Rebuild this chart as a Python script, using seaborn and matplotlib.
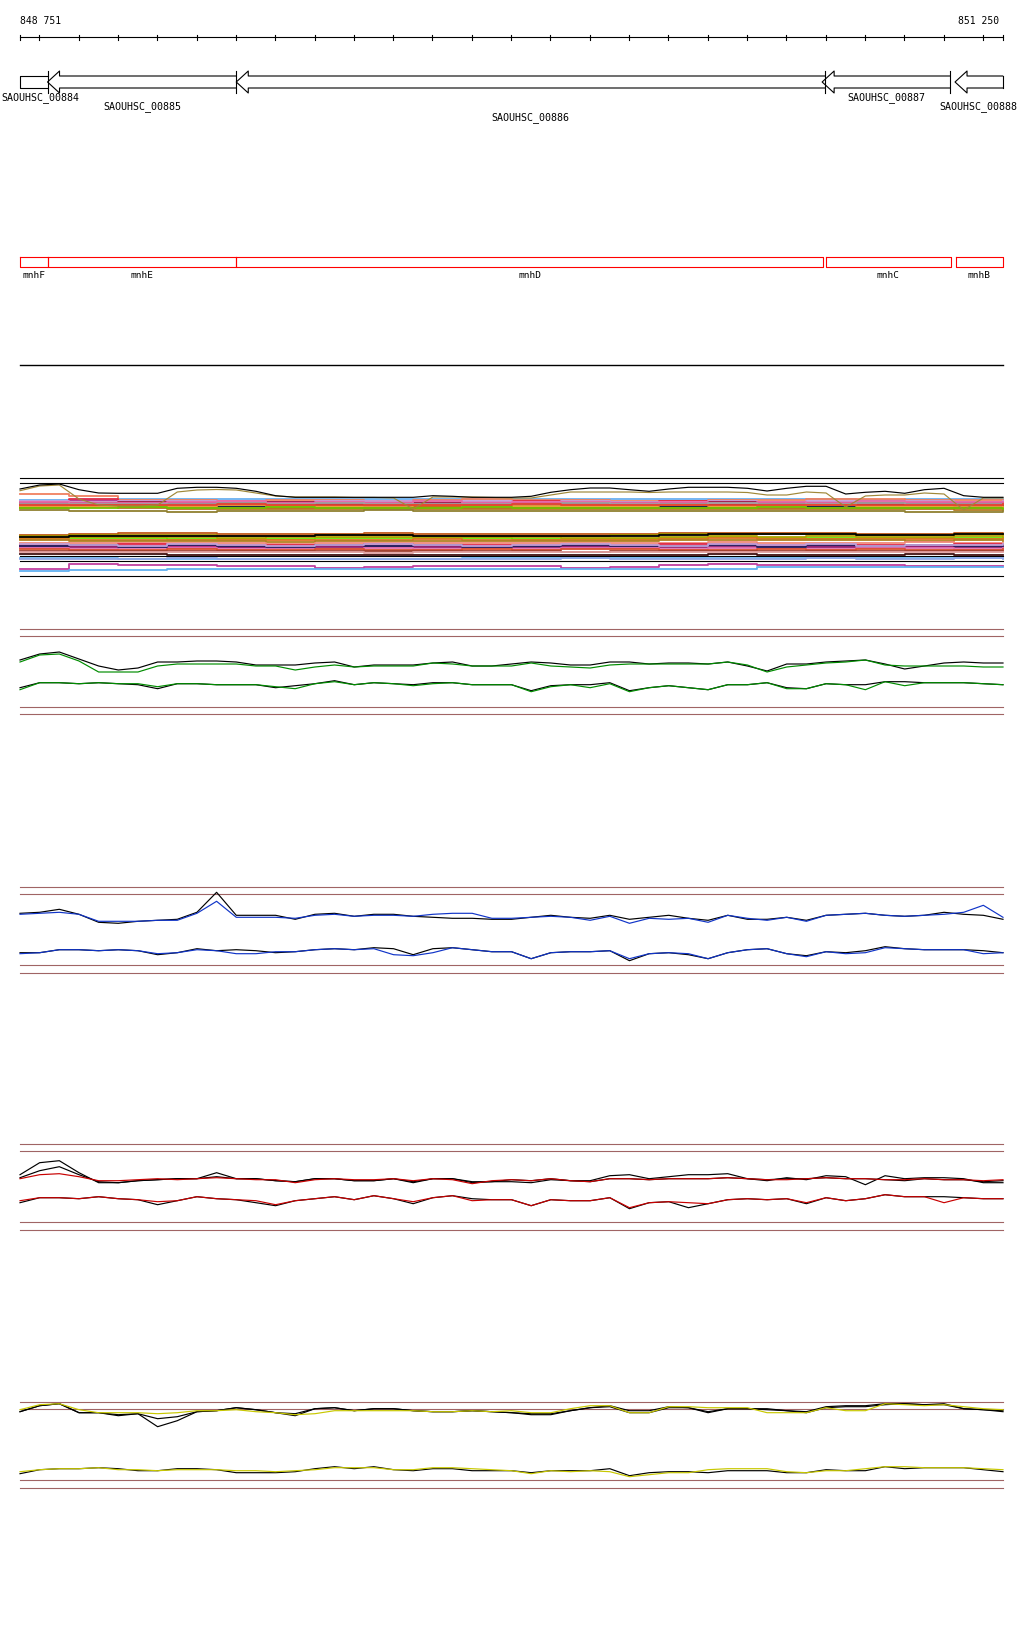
import pandas as pd
import matplotlib.pyplot as plt
import seaborn as sns

START, END = 848751, 851250
SPAN = 2500          # bp drawn across the track width
LEFT_PX, WIDTH_PX = 20, 983

# gene models (all on the minus strand)
gene_names = ['SAOUHSC_00884', 'SAOUHSC_00885', 'SAOUHSC_00886', 'SAOUHSC_00887', 'SAOUHSC_00888']
gene_starts = [848600, 848821, 849301, 850791, 851129]
gene_ends = [848821, 849301, 850798, 851117, 851400]

# annotated features
feat_names = ['mnhF', 'mnhE', 'mnhD', 'mnhC', 'mnhB']
feat_starts = [848751, 848821, 849301, 850800, 851131]
feat_ends = [848821, 849301, 850793, 851119, 851250]

# curve tracks, sampled every 50 bp (51 samples), values = offset from baseline
green_up_black = [5, 11, 13, 6, -1, -5, -3, 3, 3, 4, 4, 3, 0, 0, 0, 2, 3, -2, 0, 0, 0, 2, 3, -1, -1,
                  1, 3, 2, 0, 0, 3, 3, 1, 2, 2, 1, 3, -1, -6, 1, 1, 3, 4, 5, 1, -4, -1, 2, 3, 2, 2]
green_up_col = [3, 10, 11, 4, -7, -7, -7, -1, 1, 1, 1, 1, -1, -1, -5, -2, 0, -2, -1, -1, -1, 2, 1, -1, -1,
                -1, 2, -1, -2, -3, 0, 1, 1, 1, 1, 1, 3, 0, -7, -2, 0, 2, 3, 5, 0, -1, -1, -1, -1, -2, -2]
green_lo_black = [-3, 2, 2, 1, 2, 1, 0, -4, 1, 1, 0, 0, 0, -3, -1, 1, 4, 0, 2, 1, 0, 2, 2, 0, 0,
                  0, -6, -1, 0, 0, 2, -6, -3, -1, -3, -5, 0, 0, 2, -3, -4, 1, 0, 0, 3, 3, 2, 2, 2, 1, 0]
green_lo_col = [-5, 2, 2, 1, 2, 1, 1, -2, 1, 1, 0, 0, 0, -2, -4, 1, 3, 0, 2, 1, -1, 1, 2, 0, 0,
                0, -7, -2, 0, -3, 1, -7, -3, -1, -3, -5, 0, 0, 2, -4, -4, 1, 0, -5, 3, -1, 2, 2, 2, 1, 0]

blue_up_black = [3, 4, 7, 2, -6, -7, -5, -4, -3, 4, 24, 1, 1, 1, -3, 2, 3, 0, 2, 2, 0, -1, -2, -2, -3,
                 -3, -1, 1, -1, -2, 1, -3, -1, 1, -2, -4, 1, -3, -3, -1, -4, 1, 2, 3, 1, 0, 1, 4, 2, 1, -3]
blue_up_col = [2, 3, 4, 2, -5, -5, -5, -4, -4, 3, 15, -1, -1, -1, -2, 1, 2, 0, 1, 1, 0, 2, 3, 3, -2,
               -2, -1, 0, -1, -4, 0, -7, -2, -3, -2, -6, 1, -2, -4, -1, -5, 1, 2, 3, 1, 0, 1, 2, 4, 11, -1]
blue_lo_black = [-2, -2, 1, 1, 0, 1, 0, -4, -2, 2, 0, 1, 0, -2, -1, 1, 2, 1, 3, 2, -4, 2, 3, 1, -1,
                 -1, -8, -2, -1, -1, 0, -10, -3, -2, -4, -8, -2, 1, 2, -3, -5, -1, -2, 0, 4, 2, 1, 1, 1, 0, -2]
blue_lo_col = [-3, -2, 1, 1, 0, 1, 0, -3, -2, 1, 0, -3, -3, -1, -1, 1, 2, 1, 2, -4, -5, -2, 3, 1, -1,
               -1, -8, -2, -1, -1, 0, -8, -3, -2, -3, -8, -2, 1, 2, -3, -6, -1, -3, -2, 3, 2, 1, 1, 1, -3, -2]

red_up_black = [5, 17, 19, 7, -3, -3, -1, 0, 1, 1, 7, 1, 1, -1, -2, 1, 1, -1, -1, 1, -3, 1, 1, -3, -2,
                -2, -3, 0, -1, -1, 4, 5, 1, 3, 5, 5, 6, 1, -1, 2, 0, 4, 3, -5, 4, 1, 2, 2, 1, -3, -3]
red_up_black2 = [2, 9, 13, 5, -2, -3, -1, 0, 1, 1, 3, 1, 1, -1, -2, 1, 1, -1, -1, 1, -2, 1, 1, -2, -2,
                 0, -1, 1, -1, -2, 1, 1, 0, 1, 1, 1, 2, 1, 0, 1, 1, 2, 1, 1, 0, -1, 1, 0, 0, -2, -1]
red_up_col = [1, 5, 6, 3, -1, -1, 0, 1, 0, 1, 2, 1, 0, 0, -3, 0, 1, 0, 0, 1, -1, 1, 0, -4, -1,
              0, -1, 1, -1, -2, 1, 1, 0, 1, 1, 1, 2, 1, 0, 0, 1, 2, 1, 1, 0, 0, 1, 0, 0, -1, 0]
red_lo_black = [-3, 2, 2, 1, 3, 1, 0, -5, -1, 3, 1, 0, -3, -6, -1, 1, 3, 0, 4, 1, -4, 2, 4, 1, 0,
                0, -6, 0, -1, -1, 2, -9, -3, -2, -8, -4, 0, 1, 0, 1, -4, 2, -1, 1, 5, 3, 3, 3, 2, 1, 1]
red_lo_col = [-1, 2, 2, 1, 3, 1, 0, -2, -1, 3, 1, 0, -1, -5, -1, 1, 3, 0, 4, 1, -2, 2, 4, -1, 0,
              0, -6, 0, -1, -1, 2, -8, -3, -2, -3, -4, 0, 1, 0, 1, -3, 2, -1, 1, 5, 3, 3, -3, 2, 1, 1]

yellow_up_black = [-1, 5, 7, -2, -2, -5, -3, -16, -10, -1, 0, 3, 1, -2, -5, 2, 3, 0, 2, 2, 0, -1, -1, 0, -1,
                   -2, -4, -4, 0, 3, 5, 0, 0, 4, 3, -2, 2, 2, 2, 0, -1, 4, 5, 5, 7, 7, 6, 7, 2, 1, 0]
yellow_up_black2 = [-1, 5, 7, -2, -2, -4, -3, -8, -6, -1, 0, 3, 1, -2, -3, 2, 3, 0, 2, 2, 0, -1, -1, 0, -1,
                    -2, -3, -3, 0, 3, 4, -2, -2, 3, 3, -1, 2, 2, 1, 0, -2, 3, 4, 4, 6, 7, 6, 6, 2, 1, -1]
yellow_up_col = [1, 6, 7, 1, -2, -2, -2, -3, -2, 0, 0, 1, -1, -2, -4, -3, 0, 0, 0, 0, 0, -1, -1, 0, -1,
                 0, -2, -2, 2, 5, 5, -2, -2, 4, 4, 3, 3, 3, -2, -2, -2, 3, 0, 0, 7, 6, 5, 6, 4, 2, 1]
yellow_lo_black = [-4, 0, 1, 1, 2, 1, -1, -1, 1, 1, 0, -3, -3, -3, -2, 1, 3, 1, 3, 0, -1, 1, 1, -1, -1,
                   -1, -3, -1, -1, -1, 1, -6, -3, -2, -2, -3, -1, -1, -1, -3, -3, 0, -1, -1, 3, 1, 2, 2, 2, 0, -2]
yellow_lo_col = [-2, 0, 1, 1, 2, 0, 0, -1, 0, 0, 0, -1, -1, -2, -1, 0, 2, 2, 2, 0, 0, 2, 2, 1, 0,
                 -1, -4, -1, -2, -1, -2, -7, -5, -3, -3, 0, 1, 1, 1, -2, -3, -1, -1, 1, 3, 3, 2, 2, 2, 1, 0]

# top curves of the alignment block (pixel rows, 50 bp samples)
align_black = [490, 486, 485, 490.7, 494, 494.3, 494.3, 494.3, 489.3, 488.3, 488.3, 489.3, 492.3, 496.7,
               498.3, 498.3, 498.3, 498.3, 498.3, 498.3, 498.3, 496.7, 497.3, 498.3, 498.3,
               498.3, 497.3, 493.3, 490.7, 489, 489, 490.7, 492.3, 490, 488.3, 488.3, 488.3, 489.3, 492,
               489.3, 487.3, 487.3, 495, 493.3, 492.3, 494.3, 490.7, 489.3, 496.7, 498.3, 498.3]
align_olive = [491.7, 487, 486, 500, 506, 507, 507, 506, 493, 491, 490.5, 491, 494, 497, 498, 498, 498,
               498.5, 498.5, 499, 510, 498, 498, 498, 498.5,
               499, 499, 496, 493, 493, 493, 493, 493.5, 493, 493, 493, 493, 493.5, 496, 496, 493, 494,
               508, 497, 496, 496, 494, 495, 511, 499, 499]

# alignment block rows, sampled every 125 bp (21 samples)
band1_colors = ['#6ab0f0', '#f08060', '#e02848', '#c03090', '#f07828', '#c898d8', '#a08c00', '#66e600',
                '#181850', '#d06020', '#b07820', '#a01848', '#e868a8', '#a0a0a0', '#908030', '#f0a040',
                '#70c000', '#e84030']
band1_rows = [
    [501, 501, 500, 500, 500, 500, 500, 500, 500, 500, 500, 500, 500, 500, 500, 500, 500, 501, 500, 500, 500],
    [495, 497, 501, 501, 502, 501, 501, 502, 501, 500, 501, 501, 502, 502, 501, 501, 500, 500, 501, 501, 501],
    [503, 500, 503, 503, 503, 504, 503, 503, 503, 503, 502, 503, 503, 502, 503, 503, 503, 504, 503, 503, 503],
    [504, 502, 504, 505, 505, 504, 505, 505, 506, 504, 504, 505, 504, 504, 505, 504, 505, 505, 504, 505, 504],
    [505, 503, 505, 504, 506, 506, 506, 505, 505, 506, 506, 505, 506, 506, 505, 506, 506, 505, 506, 506, 506],
    [502, 503, 502, 502, 503, 503, 502, 502, 503, 502, 503, 502, 503, 503, 502, 503, 502, 503, 502, 503, 502],
    [506, 505, 506, 507, 507, 507, 507, 506, 507, 507, 507, 507, 507, 507, 507, 507, 507, 507, 507, 508, 507],
    [507, 506, 507, 506, 508, 508, 508, 508, 508, 507, 508, 508, 508, 508, 508, 507, 508, 508, 508, 508, 508],
    [506, 504, 504, 505, 507, 505, 506, 507, 505, 506, 506, 504, 505, 508, 506, 505, 507, 506, 505, 507, 505],
    [508, 507, 508, 508, 509, 509, 509, 509, 508, 509, 509, 509, 509, 509, 509, 509, 509, 509, 509, 509, 509],
    [509, 508, 509, 510, 510, 510, 510, 510, 510, 510, 510, 510, 510, 510, 510, 510, 510, 510, 510, 511, 511],
    [504, 505, 503, 504, 504, 503, 504, 504, 504, 505, 504, 504, 504, 504, 503, 504, 504, 504, 505, 504, 504],
    [503, 504, 504, 503, 502, 504, 503, 504, 502, 504, 503, 503, 504, 503, 504, 503, 504, 502, 503, 503, 503],
    [505, 505, 505, 505, 504, 505, 504, 505, 505, 505, 505, 504, 505, 505, 504, 505, 505, 504, 505, 505, 505],
    [511, 512, 512, 513, 512, 512, 512, 511, 512, 512, 512, 512, 512, 512, 512, 512, 512, 512, 513, 513, 512],
    [507, 508, 507, 507, 506, 507, 507, 507, 506, 507, 507, 507, 507, 506, 507, 507, 506, 507, 507, 507, 508],
    [509, 509, 508, 509, 509, 508, 509, 509, 509, 508, 509, 509, 509, 509, 509, 508, 509, 509, 509, 509, 510],
    [506, 506, 506, 506, 505, 506, 506, 506, 506, 506, 505, 506, 506, 506, 506, 506, 506, 506, 506, 506, 505],
]
band2_colors = ['#c05818', '#a09000', '#66e600', '#b0a000', '#e07020', '#b08020', '#f08878', '#e02848',
                '#b82078', '#902070', '#e070b0', '#d85030', '#202060', '#c0a0d8', '#a04030', '#e0a0a0',
                '#401010', '#70b8f0', '#90a8e8', '#000000', '#c040a0', '#60b0f0']
band2_rows = [
    [536, 535, 534, 534, 535, 535, 535, 534, 535, 535, 535, 535, 535, 534, 534, 534, 534, 535, 535, 534, 535],
    [537, 536, 536, 536, 537, 537, 536, 536, 537, 537, 537, 537, 536, 535, 535, 535, 535, 536, 536, 535, 536],
    [539, 539, 539, 540, 540, 540, 539, 539, 539, 539, 540, 540, 540, 539, 538, 539, 539, 539, 539, 539, 539],
    [538, 538, 538, 538, 539, 538, 538, 538, 538, 538, 538, 539, 539, 538, 537, 538, 537, 538, 538, 537, 538],
    [540, 541, 541, 541, 541, 541, 541, 541, 540, 541, 541, 541, 541, 540, 539, 540, 540, 540, 540, 540, 540],
    [541, 542, 542, 542, 542, 543, 542, 542, 542, 542, 542, 542, 542, 541, 541, 541, 541, 541, 542, 541, 542],
    [544, 544, 544, 544, 544, 545, 544, 544, 544, 544, 544, 544, 544, 544, 543, 544, 544, 544, 543, 544, 544],
    [546, 546, 545, 546, 546, 546, 546, 545, 546, 546, 546, 546, 546, 545, 545, 546, 546, 546, 546, 545, 546],
    [547, 547, 547, 547, 548, 547, 547, 547, 547, 547, 547, 548, 547, 547, 546, 547, 547, 547, 547, 547, 547],
    [548, 548, 548, 549, 548, 549, 548, 548, 548, 549, 548, 548, 549, 548, 548, 548, 548, 549, 548, 548, 548],
    [549, 550, 549, 549, 550, 549, 550, 549, 550, 549, 550, 549, 549, 550, 549, 549, 550, 549, 549, 550, 549],
    [550, 551, 551, 550, 551, 551, 550, 551, 551, 550, 551, 550, 550, 551, 551, 550, 551, 550, 551, 551, 550],
    [547, 546, 548, 546, 547, 548, 546, 547, 546, 548, 547, 546, 547, 547, 546, 548, 546, 547, 546, 547, 546],
    [545, 546, 547, 545, 546, 547, 546, 545, 546, 547, 546, 545, 546, 547, 545, 546, 545, 547, 546, 546, 545],
    [552, 552, 552, 552, 552, 552, 552, 552, 552, 552, 552, 553, 552, 552, 552, 552, 552, 552, 552, 552, 552],
    [553, 553, 553, 553, 553, 553, 553, 554, 553, 553, 553, 553, 553, 553, 553, 553, 553, 553, 553, 553, 553],
    [555, 555, 555, 556, 556, 556, 556, 556, 556, 556, 556, 556, 556, 556, 555, 556, 556, 556, 555, 556, 556],
    [559, 559, 560, 560, 560, 560, 560, 560, 560, 559, 559, 559, 559, 559, 559, 559, 559, 559, 559, 559, 559],
    [560, 560, 560, 559, 560, 560, 560, 560, 560, 560, 560, 559, 560, 560, 560, 560, 559, 560, 560, 559, 560],
    [538, 537, 537, 537, 537, 537, 536, 536, 537, 537, 537, 537, 537, 536, 535, 535, 535, 536, 536, 535, 535],
    [570, 565, 566, 566, 567, 567, 569, 568, 567, 567, 567, 569, 568, 566, 565, 566, 566, 566, 567, 567, 567],
    [572, 571, 571, 570, 570, 570, 570, 570, 570, 570, 570, 570, 570, 570, 570, 568, 568, 568, 568, 568, 568],
]

CURVE_POS = [START + 50 * i for i in range(51)]
BAND_POS = [START + 125 * i for i in range(21)]

BROWN = '#a06464'
MONO = 'DejaVu Sans Mono'


def draw_series(ax, positions, rows, colors, lw=0.8, steps=False):
    frames = []
    palette = {}
    for i, (row, col) in enumerate(zip(rows, colors)):
        frames.append(pd.DataFrame({'pos': positions, 'y': row, 'line': f'l{i}'}))
        palette[f'l{i}'] = col
    df = pd.concat(frames, ignore_index=True)
    kws = {'drawstyle': 'steps-post'} if steps else {}
    sns.lineplot(data=df, x='pos', y='y', hue='line', palette=palette, estimator=None,
                 sort=False, legend=False, linewidth=lw, ax=ax, **kws)


def curve_track(ax, top, up_base, lo_base, up_lines, lo_lines):
    for yy in (top, top + 7, top + 78, top + 85.3):
        ax.plot([START, END], [yy, yy], color=BROWN, lw=0.8)
    rows, cols = [], []
    for vals, c in up_lines:
        rows.append([up_base - v for v in vals])
        cols.append(c)
    for vals, c in lo_lines:
        rows.append([lo_base - v for v in vals])
        cols.append(c)
    draw_series(ax, CURVE_POS, rows, cols, lw=0.85)


fig = plt.figure(figsize=(10.24, 16.4), dpi=100)
ax = fig.add_axes([0, 0, 1, 1])
bp_px = SPAN / WIDTH_PX
ax.set_xlim(START - LEFT_PX * bp_px, START + (1024 - LEFT_PX) * bp_px)
ax.set_ylim(1640, 0)
ax.axis('off')

# ruler
ax.plot([START, END], [38.3, 38.3], color='black', lw=0.8)
ticks = [START] + list(range(848800, END, 100)) + [END]
for t in ticks:
    ax.plot([t, t], [35.5, 41], color='black', lw=0.8)
ax.text(START, 20.5, '848 751', ha='left', va='center', fontsize=7.0, family=MONO)
ax.text(END - 3 * bp_px, 20.5, '851 250', ha='right', va='center', fontsize=7.0, family=MONO)

# gene arrows
head = 12 * bp_px
label_rows = [97.5, 107, 118]
for i, (name, s, e) in enumerate(zip(gene_names, gene_starts, gene_ends)):
    a, b = max(s, START), min(e, END)
    if s >= START:
        xs = [b, a + head, a + head, a, a + head, a + head, b]
        ys = [77, 77, 72, 83, 94, 89, 89]
    else:
        xs = [b, a, a, b]
        ys = [77, 77, 89, 89]
    ax.plot(xs, ys, color='black', lw=0.8)
    if e <= END:
        ax.plot([b, b], [72, 94], color='black', lw=0.8)
    else:
        ax.plot([b, b], [77, 89], color='black', lw=0.8)
    cx = (a + b) / 2
    if s < START:
        # keep the clipped first label on the canvas
        cx = max(cx, START + 20 * bp_px)
    ax.text(cx, label_rows[i % 3], name, ha='center', va='center',
            fontsize=7.2, family=MONO)

# feature boxes
for name, s, e in zip(feat_names, feat_starts, feat_ends):
    ax.plot([s, e, e, s, s], [258.3, 258.3, 268.3, 268.3, 258.3], color='#ff0000', lw=0.8)
    ax.text((s + e) / 2, 275.5, name, ha='center', va='center', fontsize=6.8, family=MONO)

ax.plot([START, END], [366, 366], color='black', lw=1.0)

# alignment block
for yy in (478.7, 484.3, 577.3, 556.5, 562.3):
    ax.plot([START, END], [yy, yy], color='black', lw=0.8)
draw_series(ax, BAND_POS, band1_rows, band1_colors, lw=1.3, steps=True)
draw_series(ax, BAND_POS, band2_rows, band2_colors, lw=1.3, steps=True)
draw_series(ax, CURVE_POS, [align_olive, align_black], ['#a08838', '#000000'], lw=0.85)

# composition curves
curve_track(ax, 630, 666, 685.7,
            [(green_up_black, 'black'), (green_up_col, '#008c00')],
            [(green_lo_black, 'black'), (green_lo_col, '#008c00')])
curve_track(ax, 888.3, 917.3, 951.7,
            [(blue_up_black, 'black'), (blue_up_col, '#1034c8')],
            [(blue_lo_black, 'black'), (blue_lo_col, '#1034c8')])
curve_track(ax, 1145.3, 1180.7, 1200.7,
            [(red_up_black, 'black'), (red_up_black2, 'black'), (red_up_col, '#c80000')],
            [(red_lo_black, 'black'), (red_lo_col, '#c80000')])
curve_track(ax, 1403.3, 1411.7, 1470.7,
            [(yellow_up_black, 'black'), (yellow_up_black2, 'black'), (yellow_up_col, '#c8c800')],
            [(yellow_lo_black, 'black'), (yellow_lo_col, '#c8c800')])

fig.savefig('out.png', dpi=100, facecolor='white')
